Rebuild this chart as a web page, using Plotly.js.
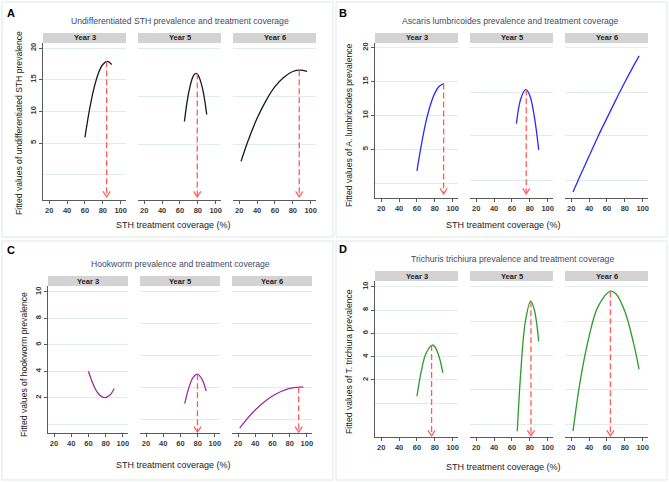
<!DOCTYPE html>
<html><head><meta charset="utf-8">
<script src="https://cdn.plot.ly/plotly-3.0.1.min.js"></script>
<style>html,body{margin:0;padding:0;background:#fff}#c{width:669px;height:482px}</style>
</head><body><div id="c"></div>
<script>
// ---- data ----
const years = ["Year 3", "Year 5", "Year 6"];
const xTicks = [20, 40, 60, 80, 100];

// A: undifferentiated STH
const a3x = [60, 65, 70, 75, 80, 85, 90];
const a3y = [5.9, 10.2, 13.6, 16.0, 17.4, 17.9, 17.4];
const a5x = [65, 70, 75, 78, 80, 85, 90];
const a5y = [8.4, 13.1, 15.6, 16.0, 15.8, 13.8, 9.5];
const a6x = [22, 30, 40, 50, 60, 70, 80, 88, 96];
const a6y = [2.1, 5.4, 8.9, 11.7, 13.9, 15.4, 16.3, 16.5, 16.3];
const aArrowX = [84.3, 79.4, 87.2];
const aArrowTop = [17.9, 16.0, 16.5];

// B: Ascaris lumbricoides
const b3x = [60, 65, 70, 75, 80, 85, 90];
const b3y = [1.8, 5.7, 9.0, 11.5, 13.3, 14.3, 14.7];
const b5x = [65, 70, 75.5, 80, 85, 90];
const b5y = [8.8, 12.5, 13.85, 12.95, 9.9, 4.9];
const b6x = [22, 30, 40, 50, 60, 70, 80, 90, 96];
const b6y = [-1.3, 1.1, 4.0, 6.9, 9.6, 12.3, 14.9, 17.35, 18.8];
const bArrowX = [89.9, 76, null];
const bArrowTop = [14.7, 13.85, null];

// C: Hookworm
const c3x = [60, 65, 70, 75, 79, 85, 90];
const c3y = [4.0, 3.1, 2.45, 2.1, 2.0, 2.2, 2.7];
const c5x = [65, 70, 75, 80, 85, 90];
const c5y = [1.55, 2.8, 3.55, 3.78, 3.4, 2.5];
const c6x = [22, 30, 40, 50, 60, 70, 80, 92, 96];
const c6y = [-0.3, 0.36, 1.07, 1.66, 2.13, 2.47, 2.7, 2.8, 2.8];
const cArrowX = [null, 79.8, 90.5];
const cArrowTop = [null, 3.78, 2.8];

// D: Trichuris trichiura
const d3x = [60, 65, 70, 77, 80, 85, 89];
const d3y = [0.6, 2.8, 4.25, 5.0, 4.85, 3.95, 2.6];
const d5x = [66, 70, 75, 81, 85, 90];
const d5y = [-2.4, 2.8, 7.0, 8.77, 8.05, 5.3];
const d6x = [22, 30, 40, 50, 64, 70, 80, 90, 96];
const d6y = [-2.4, 1.9, 5.75, 8.3, 9.63, 9.4, 7.9, 5.1, 2.9];
const dArrowX = [76.4, 81.3, 63.9];
const dArrowTop = [5.0, 8.77, 9.63];

// ---- layout helpers ----
const W = 669, H = 482;
const px = v => v / W, py = v => 1 - v / H;
const FONT = "Liberation Sans, Arial, sans-serif";
const GRID = "#e3ebee", AXC = "#5a5a5a", RED = "#ff5c5c";

const panels = [
  {letter: "A", box: [2, 2, 333, 237], letterPos: [11, 13],
   title: "Undifferentiated STH prevalence and treatment coverage", titlePos: [180, 21],
   ytitle: "Fitted values of undifferentiated STH prevalence", ytitlePos: [19, 123],
   xtitlePos: [173, 225],
   xs: [[43, 126], [138, 221], [233, 316]], yb: [43, 200], strip: [33, 43],
   yr: [-4, 20.8], ticks: [5, 10, 15, 20], grid2: [4.7, 12.4, 20],
   color: "#1a1a1a", curves: [[a3x, a3y], [a5x, a5y], [a6x, a6y]],
   ax: aArrowX, at: aArrowTop, base: -3.5},
  {letter: "B", box: [336, 2, 667, 237], letterPos: [343, 13],
   title: "Ascaris lumbricoides prevalence and treatment coverage", titlePos: [511, 21],
   ytitle: "Fitted values of A. lumbricoides prevalence", ytitlePos: [349, 125],
   xtitlePos: [503, 225],
   xs: [[375, 458], [470, 553], [565, 648]], yb: [43, 198], strip: [33, 43],
   yr: [-2.2, 20.7], ticks: [5, 10, 15, 20], grid2: [0.42, 6.97, 13.46, 20],
   color: "#2b2bff", curves: [[b3x, b3y], [b5x, b5y], [b6x, b6y]],
   ax: bArrowX, at: bArrowTop, base: -1.6},
  {letter: "C", box: [2, 241, 333, 480], letterPos: [11, 250],
   title: "Hookworm prevalence and treatment coverage", titlePos: [180, 264],
   ytitle: "Fitted values of hookworm prevalence", ytitlePos: [24, 365],
   xtitlePos: [173, 465],
   xs: [[48, 128], [140, 220], [232, 312]], yb: [286, 433], strip: [276, 286],
   yr: [-0.67, 10.45], ticks: [2, 4, 6, 8, 10], grid2: [0.36, 2.79, 5.18, 7.59, 10],
   color: "#9a2ea0", curves: [[c3x, c3y], [c5x, c5y], [c6x, c6y]],
   ax: cArrowX, at: cArrowTop, base: -0.6},
  {letter: "D", box: [336, 241, 667, 480], letterPos: [343, 249],
   title: "Trichuris trichiura prevalence and treatment coverage", titlePos: [512, 259],
   ytitle: "Fitted values of T. trichiura prevalence", ytitlePos: [349, 362],
   xtitlePos: [503, 467],
   xs: [[375, 458], [470, 553], [565, 648]], yb: [281, 437], strip: [271, 281],
   yr: [-2.9, 10.5], ticks: [2, 4, 6, 8, 10], grid2: [-1.8, 1.14, 4.09, 7.06, 10],
   color: "#2e9a2e", curves: [[d3x, d3y], [d5x, d5y], [d6x, d6y]],
   ax: dArrowX, at: dArrowTop, base: -2.8}
];

const traces = [], shapes = [], annotations = [];
const layout = {
  width: W, height: H, margin: {l: 0, r: 0, t: 0, b: 0},
  paper_bgcolor: "#fff", plot_bgcolor: "#fff", showlegend: false,
  font: {family: FONT, color: "#333"}
};
const ann = (x, y, text, font, extra) => Object.assign({
  xref: "paper", yref: "paper", x: px(x), y: py(y), text: text, showarrow: false,
  xanchor: "center", yanchor: "middle", font: font}, extra || {});
const TICKFONT = {size: 7.5, color: "#3a3a3a", family: FONT, weight: "bold"};

let k = 0;
panels.forEach(p => {
  shapes.push({type: "rect", xref: "paper", yref: "paper",
    x0: px(p.box[0]), x1: px(p.box[2]), y0: py(p.box[3]), y1: py(p.box[1]),
    line: {color: "#dde7ea", width: 1}, fillcolor: "rgba(0,0,0,0)", layer: "below"});
  annotations.push(ann(p.letterPos[0], p.letterPos[1], "<b>" + p.letter + "</b>",
    {size: 11, color: "#000", family: FONT}));
  annotations.push(ann(p.titlePos[0], p.titlePos[1], p.title,
    {size: 8.6, color: "#3e4a68", family: FONT}));
  annotations.push(ann(p.xtitlePos[0], p.xtitlePos[1], "STH treatment coverage (%)",
    {size: 9, color: "#222", family: FONT}));
  annotations.push(ann(p.ytitlePos[0], p.ytitlePos[1], p.ytitle,
    {size: 8.6, color: "#222", family: FONT}, {textangle: -90}));

  for (let j = 0; j < 3; j++) {
    k++;
    const xn = k === 1 ? "x" : "x" + k, yn = k === 1 ? "y" : "y" + k;
    const xk = k === 1 ? "xaxis" : "xaxis" + k, yk = k === 1 ? "yaxis" : "yaxis" + k;
    const dom = p.xs[j];
    layout[xk] = {
      domain: [px(dom[0]), px(dom[1])], anchor: yn, range: [13, 106],
      tickvals: xTicks, ticks: "outside", ticklen: 3, tickcolor: AXC, tickwidth: 1,
      showline: true, linecolor: AXC, linewidth: 1.2, showgrid: false, zeroline: false,
      tickfont: TICKFONT, fixedrange: true
    };
    const ya = {
      domain: [py(p.yb[1]), py(p.yb[0])], anchor: xn, range: p.yr,
      zeroline: false, gridcolor: GRID, gridwidth: 1, showgrid: true, fixedrange: true
    };
    if (j === 0) {
      Object.assign(ya, {tickvals: p.ticks, ticks: "outside", ticklen: 3, tickcolor: AXC,
        showline: true, linecolor: AXC, linewidth: 1.2, tickangle: -90,
        tickfont: TICKFONT,
        minor: {tickmode: "array", tickvals: [0], showgrid: true, gridcolor: GRID, ticks: ""}});
    } else {
      Object.assign(ya, {tickvals: p.grid2, showticklabels: false, ticks: "", showline: false});
    }
    layout[yk] = ya;

    // strip header
    shapes.push({type: "rect", xref: "paper", yref: "paper",
      x0: px(dom[0]), x1: px(dom[1]), y0: py(p.strip[1]), y1: py(p.strip[0]),
      fillcolor: "#d3d3d3", line: {width: 0}});
    annotations.push(ann((dom[0] + dom[1]) / 2, (p.strip[0] + p.strip[1]) / 2,
      "<b>" + years[j] + "</b>", {size: 7.5, color: "#222", family: FONT}));

    // fitted curve
    traces.push({type: "scatter", mode: "lines", x: p.curves[j][0], y: p.curves[j][1],
      xaxis: xn, yaxis: yn, line: {color: p.color, width: 1.3, shape: "spline", smoothing: 1},
      hoverinfo: "skip"});

    // arrow from the peak
    if (p.ax[j] !== null && p.ax[j] !== undefined) {
      const xa = p.ax[j], top = p.at[j], base = p.base;
      traces.push({type: "scatter", mode: "lines", x: [xa, xa], y: [top, base],
        xaxis: xn, yaxis: yn, line: {color: RED, width: 1.3, dash: "6px,3px"}, hoverinfo: "skip"});
      const xpu = (dom[1] - dom[0]) / (106 - 13);
      const ypu = (p.yb[1] - p.yb[0]) / (p.yr[1] - p.yr[0]);
      const dx = 3.6 / xpu, dy = 5.5 / ypu;
      traces.push({type: "scatter", mode: "lines", x: [xa - dx, xa, xa + dx],
        y: [base + dy, base, base + dy], xaxis: xn, yaxis: yn,
        line: {color: RED, width: 1.2}, hoverinfo: "skip"});
    }
  }
});

layout.shapes = shapes;
layout.annotations = annotations;
Plotly.newPlot("c", traces, layout, {displayModeBar: false, staticPlot: true});
</script></body></html>
